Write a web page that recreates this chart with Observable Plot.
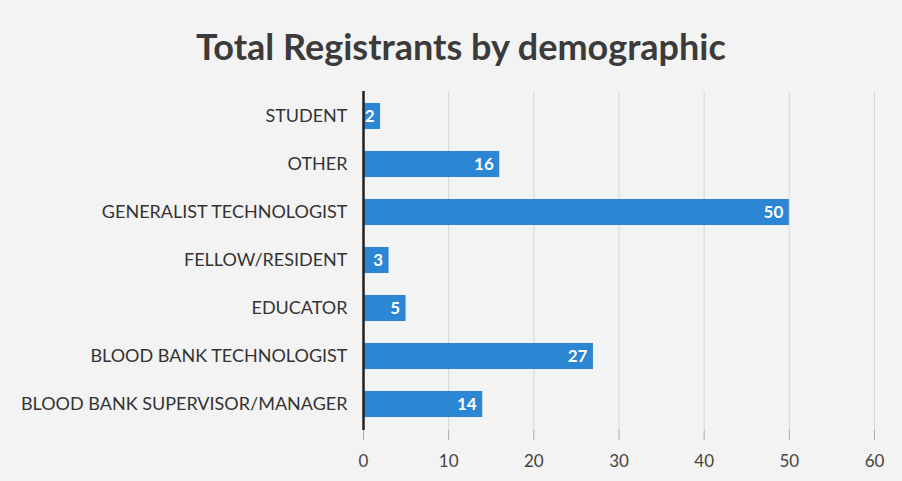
<!DOCTYPE html>
<html>
<head>
<meta charset="utf-8">
<script src="https://cdn.jsdelivr.net/npm/d3@7"></script>
<script src="https://cdn.jsdelivr.net/npm/@observablehq/plot@0.6"></script>
<style>
  html, body { margin: 0; padding: 0; background: #f3f3f3; width: 902px; height: 481px; overflow: hidden; }
  #title { height: 78px; line-height: 92px; text-align: center; font-family: Lato, sans-serif; font-weight: 700; font-size: 36px; color: #3b3b3b; padding-left: 20px; box-sizing: border-box; }
  #chart svg { display: block; }
</style>
</head>
<body>
<div id="title">Total Registrants by demographic</div>
<div id="chart"></div>
<script>
const categories = [
  "STUDENT",
  "OTHER",
  "GENERALIST TECHNOLOGIST",
  "FELLOW/RESIDENT",
  "EDUCATOR",
  "BLOOD BANK TECHNOLOGIST",
  "BLOOD BANK SUPERVISOR/MANAGER"
];
const values = [2, 16, 50, 3, 5, 27, 14];
const xTicks = [0, 10, 20, 30, 40, 50, 60];

const data = categories.map((c, i) => ({category: c, value: values[i]}));

const chart = Plot.plot({
  width: 902,
  height: 403,
  marginLeft: 363,
  marginRight: 28,
  marginTop: 13,
  marginBottom: 51,
  style: {background: "transparent", fontFamily: "Lato, sans-serif", fontSize: "18px", color: "#333"},
  x: {domain: [0, 60], ticks: xTicks},
  y: {domain: categories, paddingInner: 0.45, paddingOuter: 0.225},
  marks: [
    Plot.gridX(xTicks.slice(1), {stroke: "#d6d6d6", strokeOpacity: 1, strokeWidth: 1}),
    Plot.axisX({ticks: xTicks, tickSize: 10, tickPadding: 14, stroke: "#aaa", fontSize: 17, fill: "#444", label: null}),
    Plot.axisY({tickSize: 0, tickPadding: 16, fontSize: 18, fill: "#333", label: null}),
    Plot.barX(data, {x: "value", y: "category", fill: "#2b86d3"}),
    Plot.text(data, {x: "value", y: "category", text: d => String(d.value), textAnchor: "end", dx: -6, fill: "white", fontWeight: "bold", fontSize: 17}),
    Plot.ruleX([0], {stroke: "#222", strokeWidth: 2.5})
  ]
});
document.getElementById("chart").appendChild(chart);
</script>
</body>
</html>
